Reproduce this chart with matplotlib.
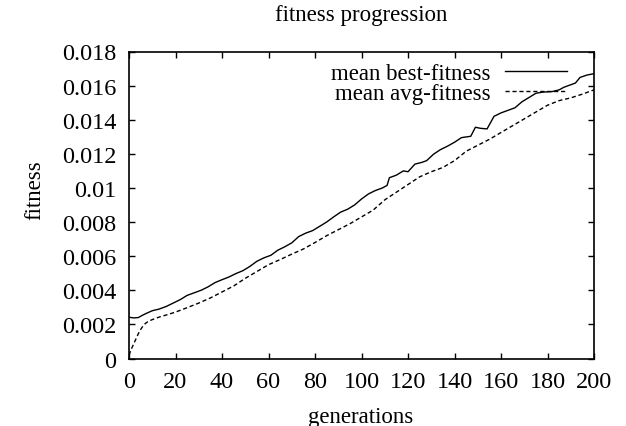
import matplotlib
matplotlib.use("Agg")
import matplotlib.pyplot as plt
from matplotlib.ticker import FuncFormatter, MultipleLocator

best_gen = [0, 2, 4, 6, 8, 10, 13, 16, 19, 22, 25, 28, 31, 34, 37, 40, 43, 46, 49,
            52, 55, 58, 61, 64, 67, 70, 73, 76, 79, 82, 85, 88, 91, 94, 97, 100,
            103, 106, 109, 111, 112, 115, 118, 120, 123, 126, 128, 131, 134, 137,
            140, 143, 147, 149, 151, 154, 157, 160, 163, 166, 169, 172, 175, 178,
            182, 185, 187, 190, 192, 194, 197, 200]
best_fit = [0.00242, 0.00238, 0.00240, 0.00255, 0.00268, 0.00280, 0.00290, 0.00305,
            0.00325, 0.00345, 0.00370, 0.00385, 0.00400, 0.00420, 0.00445, 0.00462,
            0.00478, 0.00498, 0.00515, 0.00540, 0.00570, 0.00590, 0.00605, 0.00635,
            0.00655, 0.00678, 0.00715, 0.00735, 0.00750, 0.00775, 0.00800, 0.00830,
            0.00858, 0.00875, 0.00900, 0.00935, 0.00965, 0.00985, 0.01000, 0.01015,
            0.01060, 0.01075, 0.01100, 0.01095, 0.01140, 0.01150, 0.01160, 0.01198,
            0.01225, 0.01245, 0.01268, 0.01295, 0.01303, 0.01356, 0.01350, 0.01346,
            0.01420, 0.01440, 0.01455, 0.01470, 0.01505, 0.01530, 0.01555, 0.01562,
            0.01565, 0.01575, 0.01590, 0.01605, 0.01615, 0.01648, 0.01662, 0.01670]

avg_gen = [0, 1, 2, 3, 4, 5, 6, 7, 8, 10, 13, 16, 20, 25, 30, 35, 40, 45, 50, 55,
           60, 65, 70, 75, 80, 85, 90, 95, 100, 105, 110, 115, 120, 125, 130, 135,
           140, 145, 150, 155, 160, 165, 170, 175, 180, 185, 190, 195, 200]
avg_fit = [0.00020, 0.00055, 0.00085, 0.00115, 0.00145, 0.00170, 0.00190, 0.00205,
           0.00215, 0.00228, 0.00243, 0.00255, 0.00272, 0.00298, 0.00325, 0.00355,
           0.00390, 0.00425, 0.00470, 0.00510, 0.00550, 0.00580, 0.00612, 0.00642,
           0.00680, 0.00720, 0.00755, 0.00790, 0.00830, 0.00870, 0.00930, 0.00975,
           0.01020, 0.01065, 0.01095, 0.01120, 0.01160, 0.01215, 0.01250, 0.01285,
           0.01325, 0.01365, 0.01405, 0.01445, 0.01485, 0.01512, 0.01528, 0.01550,
           0.01575]

title = "fitness progression"
xlabel = "generations"
ylabel = "fitness"
labels = ["mean best-fitness", "mean avg-fitness"]

plt.rcParams["font.family"] = ["Liberation Serif", "DejaVu Serif"]
FS = 16.5
TFS = 17.5

fig = plt.figure(figsize=(6.26, 4.27), dpi=100)
ax = fig.add_axes([129 / 626, 1 - 359.5 / 427, (594 - 129) / 626, (359.5 - 52.5) / 427])

ax.plot(best_gen, best_fit, color="black", lw=1.0, label=labels[0])
ax.plot(avg_gen, avg_fit, color="black", lw=1.0, ls=(0, (3, 2)), label=labels[1])

ax.set_xlim(0, 200)
ax.set_ylim(0, 0.018)
ax.xaxis.set_major_locator(MultipleLocator(20))
ax.yaxis.set_major_locator(MultipleLocator(0.002))
ax.yaxis.set_major_formatter(FuncFormatter(lambda v, p: "%g" % round(v, 6)))
ax.tick_params(direction="in", length=4, width=1, top=True, right=True,
               labelsize=TFS)
ax.tick_params(axis="y", pad=9)
ax.tick_params(axis="x", pad=9)
for s in ax.spines.values():
    s.set_linewidth(1.2)

fig.text(361 / 626, 1 - 15 / 427, title, ha="center", va="center", fontsize=FS)
fig.text(361 / 626, 1 - 418 / 427, xlabel, ha="center", va="center", fontsize=FS)
fig.text(35 / 626, 1 - 190 / 427, ylabel, ha="center", va="center", fontsize=FS,
         rotation=90)

leg = ax.legend(loc="upper right", frameon=False, markerfirst=False, fontsize=FS,
                handlelength=2.7, handletextpad=0.6, labelspacing=-0.05,
                borderaxespad=0.2, borderpad=0.3,
                bbox_to_anchor=(1 - 16 / 465, 1))

fig.savefig("out.png", dpi=100)
